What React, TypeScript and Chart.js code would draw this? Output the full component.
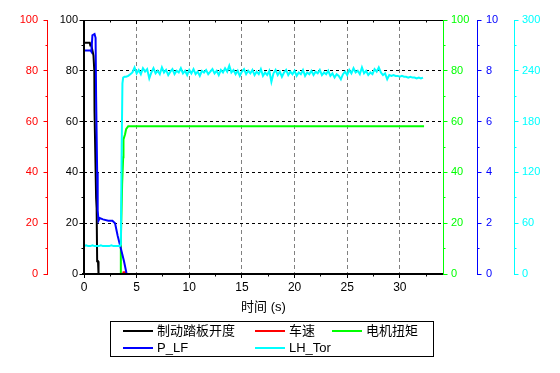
import React, { useEffect, useRef } from 'react';
import { Chart, registerables } from 'chart.js';

Chart.register(...registerables);

const FONT = '"Liberation Sans", Arial, "Noto Sans CJK SC", sans-serif';

// ---- axis ticks ----
const timeMajorTicks = [0, 5, 10, 15, 20, 25, 30];
const timeMinorTicks = [2.5, 7.5, 12.5, 17.5, 22.5, 27.5, 32.5];
const pctMajorTicks = [0, 20, 40, 60, 80, 100];
const pctMinorTicks = [10, 30, 50, 70, 90];
const pressureMajorTicks = [0, 2, 4, 6, 8, 10];
const pressureMinorTicks = [1, 3, 5, 7, 9];
const torqueMajorTicks = [0, 60, 120, 180, 240, 300];
const torqueMinorTicks = [30, 90, 150, 210, 270];

// ---- series ----
const brakeTime = [0, 0.55, 0.6, 0.7, 0.8, 0.9, 0.98, 1.0, 1.15, 1.2, 1.25, 1.33, 1.38, 32.2];
const brakeValue = [91, 91, 90, 90, 88, 86, 80, 64, 30, 26, 5, 5, 0, 0];

const speedTime = [0, 3.7, 3.75, 3.95, 4.0, 32.2];
const speedValue = [0, 0, 0.7, 0.7, 0, 0];

const motorTime = [0, 3.45, 3.5, 3.62, 3.72, 3.75, 3.9, 4.0, 4.2, 32.3];
const motorValue = [0, 0, 13, 35, 46, 53, 55, 57, 58.2, 58.2];

const pressureTime = [0, 0.62, 0.7, 0.8, 1.0, 1.1, 1.15, 1.25, 1.3, 1.38, 1.5, 1.8, 2.3, 2.7, 2.95, 3.2, 3.5, 3.8, 4.05, 32.2];
const pressureValue = [8.8, 8.8, 8.75, 9.4, 9.45, 9.3, 7.0, 4.0, 2.5, 2.1, 2.2, 2.15, 2.1, 2.1, 2.0, 1.5, 1.0, 0.5, 0, 0];

const torEarlyTime = [0, 0.2, 0.4, 0.6, 0.8, 1.0, 1.2, 1.4, 1.6, 1.8, 2.0, 2.2, 2.4, 2.6, 2.8, 3.0, 3.2, 3.4, 3.5, 3.58, 3.65, 3.72, 3.85];
const torEarlyValue = [33, 34, 33, 33, 34, 33, 33, 33, 34, 33, 33, 33, 33, 34, 33, 33, 33, 33, 35, 150, 225, 232, 233];

const torStart = 4.0;
const torStep = 0.2;
const torValue = [
  233, 234, 236, 238, 244, 237, 241, 236, 243, 239,
  242, 231, 238, 243, 237, 240, 236, 244, 238, 241,
  235, 239, 242, 236, 240, 238, 243, 237, 240, 235,
  241, 237, 242, 236, 239, 234, 240, 238, 241, 236,
  239, 242, 237, 240, 235, 241, 238, 243, 239, 246,
  238, 241, 236, 240, 234, 239, 242, 236, 240, 237,
  241, 235, 239, 236, 242, 234, 238, 235, 240, 227,
  237, 241, 235, 239, 233, 238, 241, 235, 239, 236,
  240, 234, 238, 236, 241, 234, 238, 236, 240, 235,
  239, 237, 241, 235, 238, 236, 240, 234, 237, 232,
  236, 234, 230, 236, 239, 235, 241, 237, 243, 238,
  240, 236, 244, 237, 240, 235, 238, 236, 242, 239,
  244, 238, 235, 237, 230, 235, 234, 235, 234, 234,
  233, 234, 233, 233, 232, 233, 232, 232, 231, 232,
  231, 232,
];

const legendItems = [
  { label: '制动踏板开度', color: '#000000' },
  { label: '车速', color: '#ff0000' },
  { label: '电机扭矩', color: '#00ff00' },
  { label: 'P_LF', color: '#0000ff' },
  { label: 'LH_Tor', color: '#00ffff' },
];

const toPoints = (xs: number[], ys: number[]) => xs.map((x, i) => ({ x, y: ys[i] }));

const decor = {
  id: 'decor',
  afterDatasetsDraw(chart: any) {
    const ctx = chart.ctx as CanvasRenderingContext2D;
    const { left, right, top, bottom } = chart.chartArea;
    const s = chart.scales;
    ctx.save();
    const line = (x1: number, y1: number, x2: number, y2: number, color: string, w = 1) => {
      ctx.strokeStyle = color;
      ctx.lineWidth = w;
      ctx.beginPath();
      ctx.moveTo(x1, y1);
      ctx.lineTo(x2, y2);
      ctx.stroke();
    };
    const row = (p: number) => Math.floor(p) + 0.5;
    // frame
    line(left - 2, top + 0.5, right, top + 0.5, '#000');
    line(left - 2, bottom, right, bottom, '#000', 2);
    line(left, top, left, bottom + 1, '#000', 2);
    line(right + 0.5, top, right + 0.5, bottom + 1, '#00ff00');
    // x ticks
    timeMajorTicks.forEach((v) => {
      const x = row(s.x.getPixelForValue(v));
      line(x, bottom, x, bottom + 4, '#000');
      line(x, top, x, top + 4, '#000');
    });
    timeMinorTicks.forEach((v) => {
      const x = row(s.x.getPixelForValue(v));
      if (x > right) return;
      line(x, bottom, x, bottom + 2.5, '#000');
      line(x, top, x, top + 2.5, '#000');
    });
    // y axes
    const yAxis = (id: string, majors: number[], minors: number[], side: 'left' | 'right', color: string) => {
      const sc = s[id];
      const ax = side === 'left' ? sc.right : sc.left;
      const xl = side === 'left' ? ax - 0.5 : ax + 0.5;
      if (id !== 'y') line(xl, top, xl, bottom + 1, color);
      const dir = side === 'left' ? -1 : 1;
      majors.forEach((v) => {
        const y = row(sc.getPixelForValue(v));
        line(ax, y, ax + dir * 4.5, y, color);
      });
      minors.forEach((v) => {
        const y = row(sc.getPixelForValue(v));
        line(ax, y, ax + dir * 2.5, y, color);
      });
    };
    yAxis('yRed', pctMajorTicks, pctMinorTicks, 'left', '#ff0000');
    yAxis('y', pctMajorTicks, pctMinorTicks, 'left', '#000000');
    yAxis('yGreen', pctMajorTicks, pctMinorTicks, 'right', '#00ff00');
    yAxis('yBlue', pressureMajorTicks, pressureMinorTicks, 'right', '#0000ff');
    yAxis('yCyan', torqueMajorTicks, torqueMinorTicks, 'right', '#00ffff');
    ctx.restore();
  },
  afterDraw(chart: any) {
    const ctx = chart.ctx as CanvasRenderingContext2D;
    const { left, right } = chart.chartArea;
    ctx.save();
    // axis title
    ctx.fillStyle = '#000';
    ctx.font = `13px ${FONT}`;
    ctx.textAlign = 'center';
    ctx.textBaseline = 'middle';
    ctx.fillText('时间 (s)', (left + right) / 2, 307);
    // legend
    ctx.strokeStyle = '#000';
    ctx.lineWidth = 1;
    ctx.strokeRect(110.5, 321.5, 323, 35);
    const cols = [123, 255, 332];
    const rows = [331, 348];
    ctx.textAlign = 'left';
    legendItems.forEach((it, i) => {
      const cx = cols[i % 3];
      const cy = rows[Math.floor(i / 3)];
      ctx.strokeStyle = it.color;
      ctx.lineWidth = 2;
      ctx.beginPath();
      ctx.moveTo(cx, cy);
      ctx.lineTo(cx + 30, cy);
      ctx.stroke();
      ctx.fillStyle = '#000';
      ctx.fillText(it.label, cx + 34, cy + 0.5);
    });
    ctx.restore();
  },
};

const yScale = (
  position: 'left' | 'right',
  weight: number,
  min: number,
  max: number,
  ticks: number[],
  color: string,
  width: number,
  padding: number,
) => ({
  type: 'linear',
  position,
  weight,
  min,
  max,
  afterBuildTicks: (sc: any) => {
    sc.ticks = ticks.map((v) => ({ value: v }));
  },
  afterFit: (sc: any) => {
    sc.width = width;
  },
  grid: { drawOnChartArea: false, drawTicks: false },
  border: { display: false },
  ticks: { color, font: { family: FONT, size: 11 }, padding, autoSkip: false },
});

export default function App() {
  const ref = useRef<HTMLCanvasElement>(null);
  useEffect(() => {
    if (!ref.current) return;
    const torTime = [...torEarlyTime, ...torValue.map((_, i) => Math.round((torStart + i * torStep) * 100) / 100)];
    const torAll = [...torEarlyValue, ...torValue];
    const common = { pointRadius: 0, borderWidth: 2, tension: 0, fill: false, clip: 0 };
    const chart = new Chart(ref.current, {
      type: 'line',
      data: {
        datasets: [
          { label: '制动踏板开度', data: toPoints(brakeTime, brakeValue), borderColor: '#000000', yAxisID: 'y', order: 5, ...common },
          { label: '车速', data: toPoints(speedTime, speedValue), borderColor: '#ff0000', yAxisID: 'yRed', order: 4, ...common },
          { label: '电机扭矩', data: toPoints(motorTime, motorValue), borderColor: '#00ff00', yAxisID: 'yGreen', order: 3, ...common },
          { label: 'P_LF', data: toPoints(pressureTime, pressureValue), borderColor: '#0000ff', yAxisID: 'yBlue', order: 2, ...common },
          { label: 'LH_Tor', data: toPoints(torTime, torAll), borderColor: '#00ffff', yAxisID: 'yCyan', order: 1, ...common },
        ],
      } as any,
      options: {
        animation: false,
        responsive: false,
        maintainAspectRatio: false,
        layout: { padding: { top: 20, left: 0, right: 0, bottom: 0 } },
        plugins: { legend: { display: false }, tooltip: { enabled: false } },
        scales: {
          x: {
            type: 'linear',
            position: 'bottom',
            min: 0,
            max: 34.1,
            afterBuildTicks: (sc: any) => {
              sc.ticks = timeMajorTicks.map((v) => ({ value: v }));
            },
            afterFit: (sc: any) => {
              sc.height = 99;
            },
            grid: {
              drawTicks: false,
              lineWidth: 1,
              color: (c: any) => (c.tick && c.tick.value > 0 ? '#808080' : 'rgba(0,0,0,0)'),
            },
            border: { display: false, dash: [4, 3] },
            ticks: { color: '#000', font: { family: FONT, size: 12 }, padding: 6, maxRotation: 0, autoSkip: false },
          },
          y: {
            type: 'linear',
            position: 'left',
            weight: 0,
            min: 0,
            max: 100,
            afterBuildTicks: (sc: any) => {
              sc.ticks = pctMajorTicks.map((v) => ({ value: v }));
            },
            afterFit: (sc: any) => {
              sc.width = 36;
            },
            grid: {
              drawTicks: false,
              lineWidth: 1,
              color: (c: any) => (c.tick && c.tick.value > 0 && c.tick.value < 100 ? '#000000' : 'rgba(0,0,0,0)'),
            },
            border: { display: false, dash: [3, 3] },
            ticks: { color: '#000', font: { family: FONT, size: 11 }, padding: 6, autoSkip: false },
          },
          yRed: yScale('left', 1, 0, 100, pctMajorTicks, '#ff0000', 48, 10),
          yGreen: yScale('right', 0, 0, 100, pctMajorTicks, '#00ff00', 34, 8),
          yBlue: yScale('right', 1, 0, 10, pressureMajorTicks, '#0000ff', 37, 9),
          yCyan: yScale('right', 2, 0, 300, torqueMajorTicks, '#00ffff', 46, 8),
        } as any,
      },
      plugins: [decor],
    });
    return () => chart.destroy();
  }, []);
  return (
    <div style={{ position: 'fixed', left: 0, top: 0, width: 560, height: 373, background: '#fff' }}>
      <canvas ref={ref} width={560} height={373} style={{ display: 'block', width: 560, height: 373 }} />
    </div>
  );
}
